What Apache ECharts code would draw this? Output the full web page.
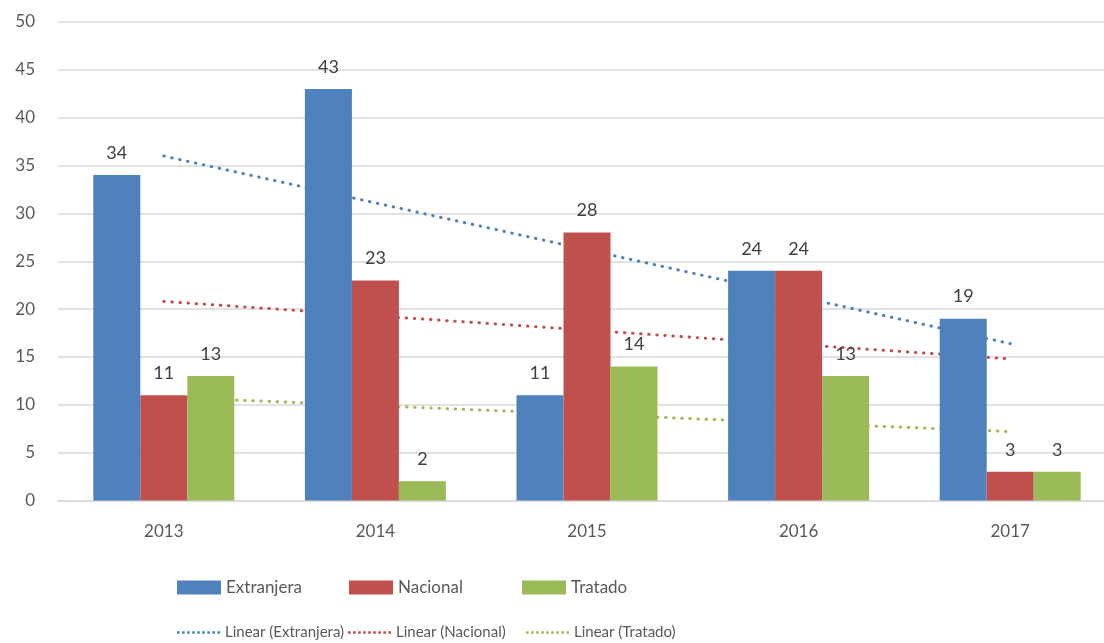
<!DOCTYPE html>
<html>
<head>
<meta charset="utf-8">
<script src="https://cdn.jsdelivr.net/npm/echarts@6/dist/echarts.min.js"></script>
<style>
  html, body { margin: 0; padding: 0; background: #fff; overflow: hidden; }
  /* plot area runs slightly past the right edge of the window, like the original */
  #chart { width: 1116px; height: 643px; }
</style>
</head>
<body>
<div id="chart"></div>
<script>
var years = ['2013', '2014', '2015', '2016', '2017'];
var extranjera = [34, 43, 11, 24, 19];
var nacional = [11, 23, 28, 24, 3];
var tratado = [13, 2, 14, 13, 3];
// trend lines
var trendExtranjera = [36, 31.1, 26.2, 21.3, 16.4];
var trendNacional = [20.8, 19.3, 17.8, 16.3, 14.8];
var trendTratado = [10.8, 9.9, 9.0, 8.1, 7.2];

var barNames = ['Extranjera', 'Nacional', 'Tratado'];
var trendNames = ['Linear (Extranjera)', 'Linear (Nacional)', 'Linear (Tratado)'];

var font = 'Lato, "Open Sans", sans-serif';
var blue = '#4F81BD', red = '#C0504D', green = '#9BBB59';

// dotted legend icon: a row of small dots
var dots = '';
for (var i = 0; i < 9; i++) {
  dots += 'M' + (i * 5) + ',0h2.6v2.6h-2.6z';
}

function bar(name, data, color) {
  return {
    name: name,
    type: 'bar',
    data: data,
    barWidth: 47,
    barGap: '0%',
    z: 3,
    itemStyle: { color: color },
    label: {
      show: true,
      position: 'top',
      distance: 13,
      color: '#404040',
      fontSize: 18,
      fontFamily: font
    }
  };
}

function trend(name, data, color) {
  return {
    name: name,
    type: 'line',
    data: data,
    symbol: 'none',
    z: 1,
    silent: true,
    lineStyle: { color: color, width: 3, type: [0.5, 7.6], cap: 'round' },
    itemStyle: { color: color }
  };
}

// one legend per item so the columns line up like the original
var legends = [];
var row1Left = [172, 344, 517];
var row2Left = [172, 343, 521];
barNames.forEach(function (n, i) {
  legends.push({
    data: [n], left: row1Left[i], top: 574,
    itemWidth: 44, itemHeight: 14, icon: 'rect',
    textStyle: { color: '#595959', fontSize: 17, fontFamily: font }
  });
});
trendNames.forEach(function (n, i) {
  legends.push({
    data: [n], left: row2Left[i], top: 620,
    itemWidth: 43, itemHeight: 3, itemGap: 0, icon: 'path://' + dots,
    textStyle: { color: '#595959', fontSize: 15, fontFamily: font }
  });
});

var chart = echarts.init(document.getElementById('chart'));
chart.setOption({
  animation: false,
  backgroundColor: '#fff',
  grid: { left: 58, top: 22, right: 0, bottom: 142.5, containLabel: false },
  legend: legends,
  xAxis: {
    type: 'category',
    data: years,
    axisLine: { lineStyle: { color: '#D9D9D9', width: 1.5 } },
    axisTick: { show: false },
    axisLabel: { color: '#595959', fontSize: 17, fontFamily: font, margin: 23 }
  },
  yAxis: {
    type: 'value',
    min: 0,
    max: 50,
    interval: 5,
    axisLine: { show: false },
    axisTick: { show: false },
    splitLine: { lineStyle: { color: '#D9D9D9', width: 1.5 } },
    axisLabel: { color: '#595959', fontSize: 17, fontFamily: font, margin: 23 }
  },
  series: [
    bar(barNames[0], extranjera, blue),
    bar(barNames[1], nacional, red),
    bar(barNames[2], tratado, green),
    trend(trendNames[0], trendExtranjera, blue),
    trend(trendNames[1], trendNacional, red),
    trend(trendNames[2], trendTratado, green)
  ]
});
</script>
</body>
</html>
